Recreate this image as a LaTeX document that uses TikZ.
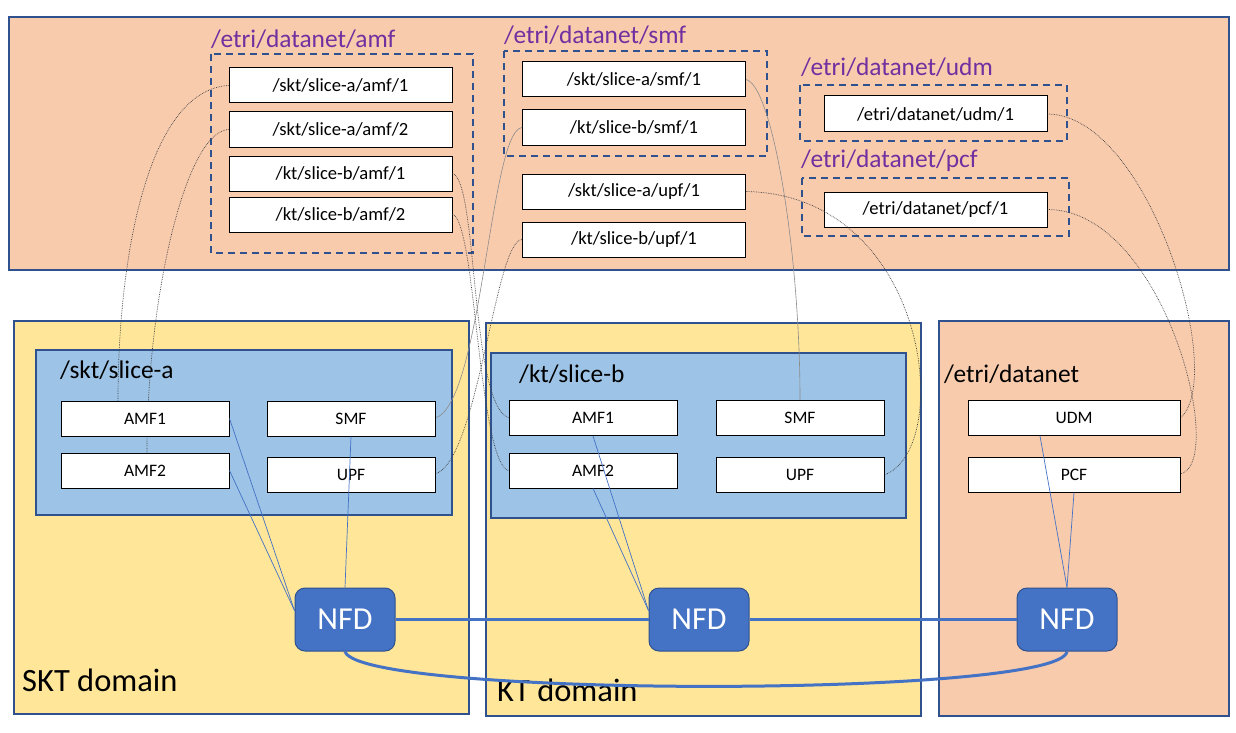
\documentclass[tikz,border=0pt]{standalone}
\usepackage{fontspec}
\setmainfont{Carlito}
\usetikzlibrary{calc}
\definecolor{peach}{HTML}{F8CBAD}
\definecolor{yel}{HTML}{FFE699}
\definecolor{slicebl}{HTML}{9DC3E6}
\definecolor{bord}{HTML}{2F528F}
\definecolor{nfdbl}{HTML}{4472C4}
\definecolor{purp}{HTML}{7030A0}
\tikzset{
  region/.style={draw=bord, line width=2pt},
  dashbox/.style={draw=bord, line width=2pt, dash pattern=on 7pt off 5pt},
  wbox/.style={draw=black, fill=white, line width=1pt, minimum height=35pt, inner sep=0pt, font=\fontsize{17.5}{17.5}\selectfont},
  topbox/.style={wbox, minimum width=223pt, font=\fontsize{18.6}{18.6}\selectfont},
  fbox/.style={wbox, minimum width=168pt},
  nfdbox/.style={draw=bord, fill=nfdbl, line width=1pt, rounded corners=10pt, minimum width=100pt, minimum height=63pt, text=white, font=\fontsize{32}{32}\selectfont},
  ttl/.style={anchor=west, text=purp, inner sep=0pt, font=\fontsize{25.4}{25.4}\selectfont},
  lbl/.style={anchor=west, inner sep=0pt, font=\fontsize{25.4}{25.4}\selectfont},
  dom/.style={anchor=west, inner sep=0pt, font=\fontsize{32.5}{32.5}\selectfont},
  link/.style={line width=0.7pt, densely dotted, black!75},
  glink/.style={line width=0.6pt, black!45},
  bl/.style={line width=0.7pt, nfdbl},
  thickbl/.style={line width=3pt, nfdbl}
}
\begin{document}
\begin{tikzpicture}[x=1pt,y=-1pt]
\useasboundingbox (0,0) rectangle (1236,733);
\fill[white] (0,0) rectangle (1236,733);
% regions
\draw[region, fill=peach] (9,17) rectangle (1229,270);
\draw[region, fill=yel] (14,321) rectangle (469,714);
\draw[region, fill=yel] (486,323) rectangle (921,716);
\draw[region, fill=peach] (939,321) rectangle (1229,716);
\draw[region, fill=slicebl] (36,350) rectangle (452,515);
\draw[region, fill=slicebl] (491,353) rectangle (906,518);
% labels
\node[dom] (skt) at (22,680) {SKT domain};
\node[dom] (kt) at (497,690) {KT domain};
\node[lbl] (sla) at (60,370) {/skt/slice-a};
\node[lbl] (slb) at (519,374) {/kt/slice-b};
\node[lbl] (etd) at (944,374) {/etri/datanet};
% titles and dashed groups
\node[ttl] (tamf) at (211,39) {/etri/datanet/amf};
\node[ttl] (tsmf) at (504,35) {/etri/datanet/smf};
\node[ttl] (tudm) at (801,67) {/etri/datanet/udm};
\node[ttl] (tpcf) at (801,161) {/etri/datanet/pcf};
\draw[dashbox] (211,54) rectangle (473,253);
\draw[dashbox] (504,51) rectangle (767,156);
\draw[dashbox] (800,85) rectangle (1067,141);
\draw[dashbox] (802,178) rectangle (1069,236);
% top boxes
\node[topbox] (ta1) at (340.5,85.5) {/skt/slice-a/amf/1};
\node[topbox] (ta2) at (340.5,129.5) {/skt/slice-a/amf/2};
\node[topbox] (tb1) at (340.5,173.5) {/kt/slice-b/amf/1};
\node[topbox] (tb2) at (340.5,214.5) {/kt/slice-b/amf/2};
\node[topbox] (tsa) at (634,79.5) {/skt/slice-a/smf/1};
\node[topbox] (tsb) at (634,127.5) {/kt/slice-b/smf/1};
\node[topbox] (tua) at (634,191.5) {/skt/slice-a/upf/1};
\node[topbox] (tub) at (634,239.5) {/kt/slice-b/upf/1};
\node[topbox, minimum height=36pt] (tudm1) at (935.5,114) {/etri/datanet/udm/1};
\node[topbox] (tpcf1) at (935.5,209.5) {/etri/datanet/pcf/1};
% function box anchor coordinates (boxes drawn later)
\coordinate (amf1a n) at (118,401);
\coordinate (amf2a n) at (147,453);
\coordinate (amf1b w) at (509,418);
\coordinate (amf2b w) at (509,471);
\coordinate (smfa e) at (435,418);
\coordinate (upfa e) at (435,474);
\coordinate (smfb n) at (800,400);
\coordinate (upfb e) at (884,475);
\coordinate (udm e) at (1180,418);
\coordinate (pcf e) at (1180,474);
% dotted links
\draw[link] (ta1.west) .. controls (150,90) and (118,250) .. (amf1a n);
\draw[link] (ta2.west) .. controls (185,132) and (147,300) .. (amf2a n);
\draw[link] (tb1.east) .. controls (478,180) and (470,405) .. (amf1b w);
\draw[link] (tb2.east) .. controls (476,220) and (478,462) .. (amf2b w);
\draw[glink] (tsb.west) .. controls (490,130) and (482,405) .. (smfa e);
\draw[link] (tub.west) .. controls (495,240) and (478,462) .. (upfa e);
\draw[glink] (tsa.east) .. controls (772,85) and (800,250) .. (smfb n);
\draw[link] (tua.east) .. controls (930,195) and (955,450) .. (upfb e);
\draw[link] (tudm1.east) .. controls (1150,115) and (1228,380) .. (udm e);
\draw[link] (tpcf1.east) .. controls (1165,210) and (1228,465) .. (pcf e);
% function boxes
\node[fbox] (amf1a) at (145,418.5) {AMF1};
\node[fbox] (amf2a) at (145,470.5) {AMF2};
\node[fbox] (smfa) at (351,418.5) {SMF};
\node[fbox] (upfa) at (351,474.5) {UPF};
\node[fbox] (amf1b) at (593,418) {AMF1};
\node[fbox] (amf2b) at (593,470.5) {AMF2};
\node[fbox] (smfb) at (800,418) {SMF};
\node[fbox] (upfb) at (800,474.5) {UPF};
\node[wbox, minimum width=212pt] (udm) at (1074,418) {UDM};
\node[wbox, minimum width=212pt] (pcf) at (1074,474.5) {PCF};
% NFDs
\node[nfdbox] (nfd1) at (345,619.5) {NFD};
\node[nfdbox] (nfd2) at (699,619.5) {NFD};
\node[nfdbox] (nfd3) at (1067,619.5) {NFD};
% NFD links
\draw[thickbl] (nfd1.east) -- (nfd2.west);
\draw[thickbl] (nfd2.east) -- (nfd3.west);
\draw[thickbl] (nfd1.south) .. controls (360,698) and (1060,698) .. (nfd3.south);
% thin blue links
\draw[bl] (amf1a.east) -- (nfd1.170);
\draw[bl] (amf2a.east) -- (nfd1.170);
\draw[bl] (smfa.south) -- (nfd1.north);
\draw[bl] (amf1b.south) -- (nfd2.170);
\draw[bl] (amf2b.south) -- (nfd2.170);
\draw[bl] ($(udm.south)+(-34,0)$) -- (nfd3.north);
\draw[bl] (pcf.south) -- (nfd3.north);
\end{tikzpicture}
\end{document}
